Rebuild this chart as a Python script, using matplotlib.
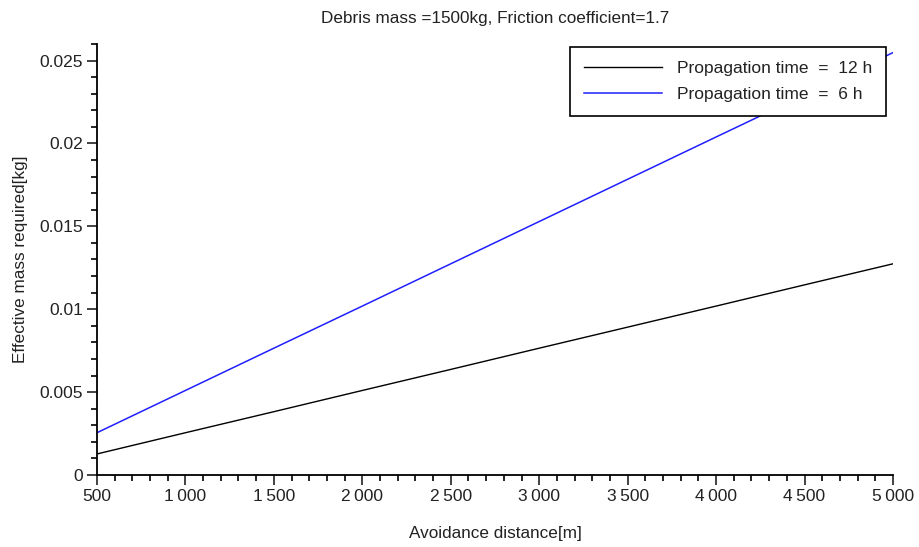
import matplotlib.pyplot as plt
from matplotlib.ticker import MultipleLocator

plt.rcParams['font.family'] = ['Liberation Sans', 'DejaVu Sans']

# avoidance distance [m]
distance = [500, 1000, 1500, 2000, 2500, 3000, 3500, 4000, 4500, 5000]
# effective mass required [kg]
mass_12h = [0.00127, 0.00255, 0.00382, 0.00510, 0.00637,
            0.00765, 0.00892, 0.01019, 0.01147, 0.01274]
mass_6h = [0.00255, 0.00510, 0.00765, 0.01019, 0.01274,
           0.01529, 0.01784, 0.02039, 0.02293, 0.02548]

xticks = [500, 1000, 1500, 2000, 2500, 3000, 3500, 4000, 4500, 5000]
xtick_labels = ['500', '1\u2009000', '1\u2009500', '2\u2009000', '2\u2009500',
                '3\u2009000', '3\u2009500', '4\u2009000', '4\u2009500', '5\u2009000']
yticks = [0, 0.005, 0.01, 0.015, 0.02, 0.025]
ytick_labels = ['0', '0.005', '0.01', '0.015', '0.02', '0.025']

fig = plt.figure(figsize=(9.19, 5.47), dpi=100)
ax = fig.add_axes([0.1055, 0.1316, 0.8662, 0.788])

ax.plot(distance, mass_12h, color='black', lw=1.0, label='Propagation time  =  12 h')
ax.plot(distance, mass_6h, color='#2020ff', lw=1.1, label='Propagation time  =  6 h')

ax.set_xlim(500, 5000)
ax.set_ylim(0, 0.026)
ax.set_xticks(xticks)
ax.set_xticklabels(xtick_labels)
ax.set_yticks(yticks)
ax.set_yticklabels(ytick_labels)
ax.xaxis.set_minor_locator(MultipleLocator(100))
ax.yaxis.set_minor_locator(MultipleLocator(0.001))

ax.spines['top'].set_visible(False)
ax.spines['right'].set_visible(False)
ax.spines['left'].set_linewidth(1.3)
ax.spines['bottom'].set_linewidth(1.3)
ax.tick_params(which='major', direction='out', length=7, width=1.2,
               labelsize=12.5, colors='#222222', pad=3)
ax.tick_params(which='minor', direction='out', length=4.3, width=1.2)

ax.set_title('Debris mass =1500kg, Friction coefficient=1.7', fontsize=12.3,
             pad=15, color='#222222')
ax.set_xlabel('Avoidance distance[m]', fontsize=12.3, labelpad=16, color='#222222')
ax.set_ylabel('Effective mass required[kg]', fontsize=12.3, labelpad=8, color='#222222')

leg = ax.legend(loc='upper right', bbox_to_anchor=(886 / 919, 1 - 47 / 547),
                bbox_transform=fig.transFigure, borderaxespad=0,
                fontsize=12.5, handlelength=4.5, handletextpad=0.85,
                labelspacing=0.6, borderpad=0.8, fancybox=False,
                framealpha=1, edgecolor='black')
leg.get_frame().set_linewidth(1.2)
for t in leg.get_texts():
    t.set_color('#222222')

fig.savefig('out.png', dpi=100)
